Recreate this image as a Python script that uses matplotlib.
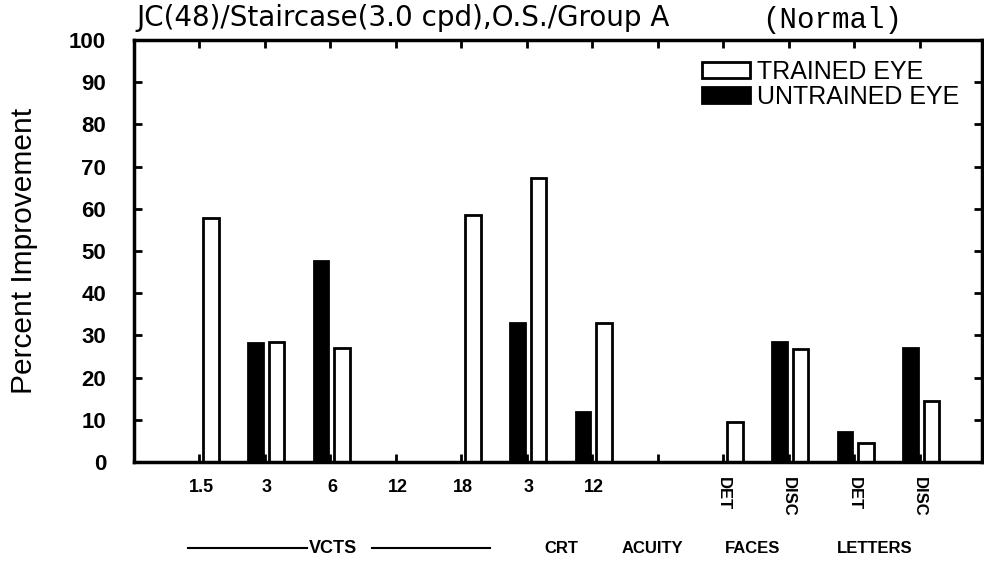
import matplotlib
matplotlib.use("Agg")
import matplotlib.pyplot as plt
from matplotlib.patches import Patch
import numpy as np

# ---- data ----
tick_labels = ["1.5", "3", "6", "12", "18", "3", "12", "", "DET", "DISC", "DET", "DISC"]
untrained = [0, 28.2, 47.6, 0, 0, 32.9, 11.8, 0, 0, 28.5, 7.1, 27.0]
trained = [57.8, 28.4, 27.0, 0, 58.5, 67.3, 32.9, 0, 9.5, 26.8, 4.5, 14.5]
group_labels = ["CRT", "ACUITY", "FACES", "LETTERS"]
group_pos = [6.53, 7.92, 9.45, 11.31]
yticks = [0, 10, 20, 30, 40, 50, 60, 70, 80, 90, 100]

fig = plt.figure(figsize=(9.84, 5.75), dpi=100)
ax = fig.add_axes([0.136, 0.1965, 0.862, 0.734])

x = np.arange(1, len(tick_labels) + 1)
lw = 2.0
for xi, u, t in zip(x, untrained, trained):
    if u > 0:
        ax.bar(xi - 0.145, u, width=0.22, color="black", edgecolor="black", linewidth=lw)
    if t > 0:
        ax.bar(xi + 0.18, t, width=0.24, color="white", edgecolor="black", linewidth=lw)

ax.set_xlim(0, 12.95)
ax.set_ylim(0, 100)
for s in ax.spines.values():
    s.set_linewidth(2.5)

ax.set_yticks(yticks)
ax.set_yticklabels([str(v) for v in yticks], fontfamily="Liberation Sans",
                   fontweight="bold", fontsize=16)
ax.tick_params(axis="y", direction="in", length=6, width=2, pad=20,
               right=True, labelright=False)
ax.set_xticks(x)
ax.set_xticklabels([])
ax.tick_params(axis="x", direction="in", length=6, width=2, top=True)

# x tick labels
for xi, lab in zip(x, tick_labels):
    if lab in ("DET", "DISC"):
        ax.text(xi, -3.6, lab, rotation=-90, ha="center", va="top",
                fontfamily="Liberation Sans", fontweight="bold", fontsize=12)
    elif lab:
        ax.text(xi + 0.03, -6.0, lab, ha="center", va="center",
                fontfamily="Liberation Sans", fontweight="bold", fontsize=13)

# group labels
gy = -20.4
ax.text(3.04, gy, "VCTS", ha="center", va="center", fontfamily="Liberation Sans",
        fontweight="bold", fontsize=13, clip_on=False)
ax.plot([0.82, 2.64], [gy, gy], color="black", lw=1.5, clip_on=False)
ax.plot([3.63, 5.44], [gy, gy], color="black", lw=1.5, clip_on=False)
for gx, gl in zip(group_pos, group_labels):
    ax.text(gx, gy, gl, ha="center", va="center", fontfamily="Liberation Sans",
            fontweight="bold", fontsize=12, clip_on=False)

ax.set_ylabel("Percent Improvement", fontfamily="Liberation Sans", fontsize=21.5)
ax.yaxis.set_label_coords((38 - 134) / 848, 0.5)

fig.text(0.139, 0.968, "JC(48)/Staircase(3.0 cpd),O.S./Group A", fontfamily="DejaVu Sans",
         fontsize=20, ha="left", va="center")
fig.text(0.775, 0.966, "(Normal)", fontfamily="Liberation Mono", fontsize=21,
         ha="left", va="center")

handles = [Patch(facecolor="white", edgecolor="black", linewidth=2),
           Patch(facecolor="black", edgecolor="black", linewidth=2)]
leg = ax.legend(handles, ["TRAINED EYE", "UNTRAINED EYE"], loc="upper right",
                bbox_to_anchor=(0.997, 1.0), frameon=False, handlelength=1.9,
                handleheight=0.6, handletextpad=0.3, labelspacing=0.05,
                borderpad=0.3, prop={"family": "Liberation Sans", "size": 18})

fig.savefig("out.png", dpi=100)
